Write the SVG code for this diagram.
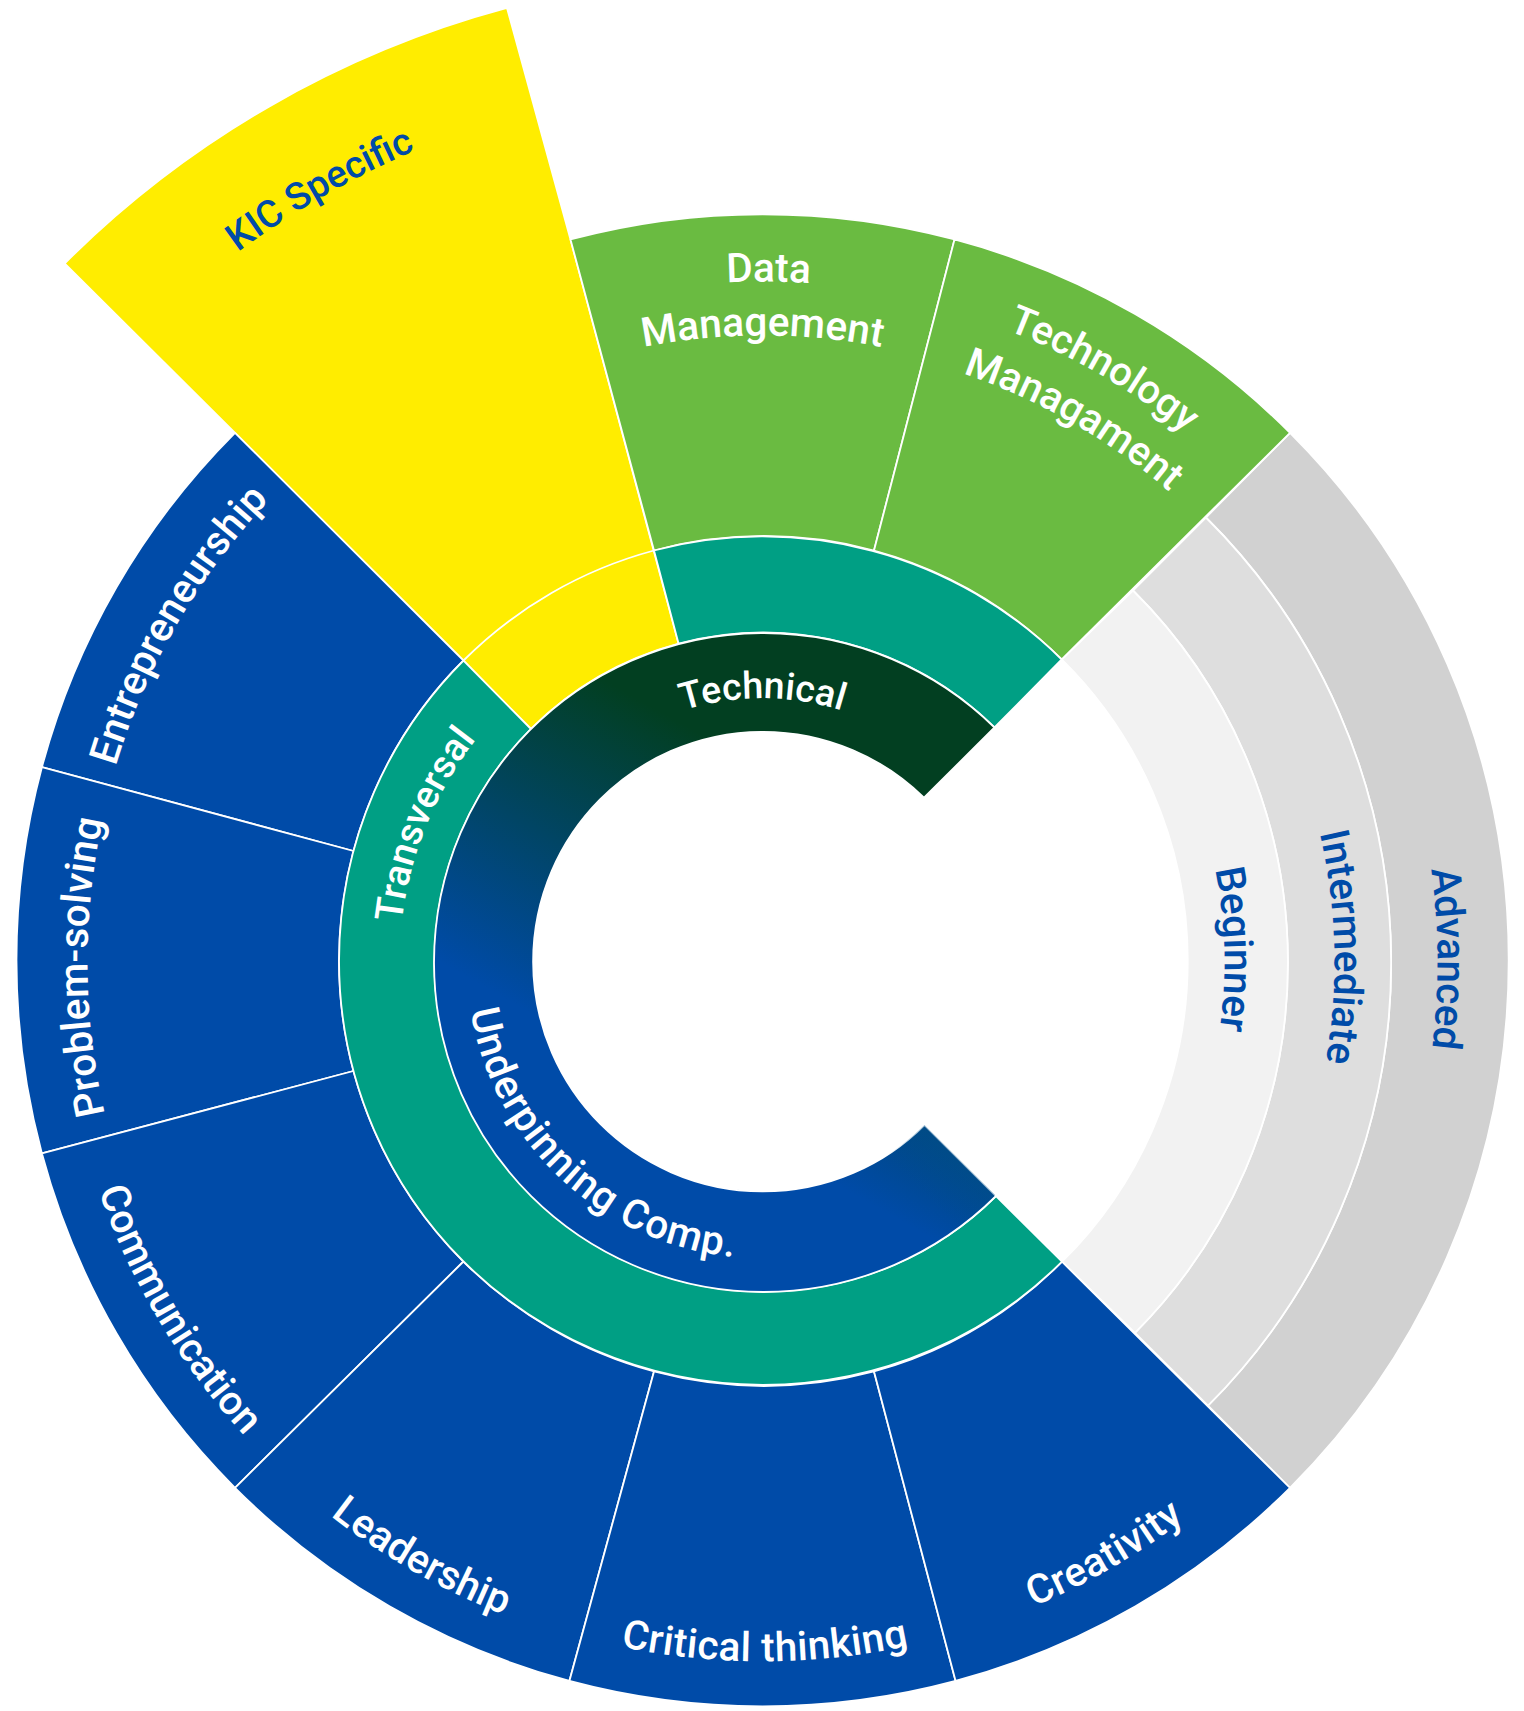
<svg xmlns="http://www.w3.org/2000/svg" width="1524" height="1711" viewBox="0 0 1524 1711">
<style>
.s{stroke:#fff;stroke-width:1.8;stroke-linejoin:round}
.g{fill:#6abb41}.t{fill:#009f84}.b{fill:#004ba8}.y{fill:#ffed00}
text{font-family:Roboto,"Noto Sans",sans-serif;font-size:40.5px;font-weight:500;fill:#fff;text-anchor:middle}
text.d{fill:#004ba8}
</style>
<defs>
<linearGradient id="core" gradientUnits="userSpaceOnUse" x1="640" y1="700" x2="480" y2="985"><stop offset="0" stop-color="#023f21"/><stop offset="1" stop-color="#004ba8"/></linearGradient>
<linearGradient id="coreEnd" gradientUnits="userSpaceOnUse" x1="945" y1="1115" x2="895" y2="1165"><stop offset="0" stop-color="#01508c" stop-opacity=".6"/><stop offset="1" stop-color="#01508c" stop-opacity="0"/></linearGradient>
<path id="c264" d="M498.5 962.3A264 264 0 0 1 1026.5 962.3"/>
<path id="c363" d="M399.5 962.3A363 363 0 0 1 1125.5 962.3"/>
<path id="c681" d="M81.5 962.3A681 681 0 0 1 1443.5 962.3"/>
<path id="c627" d="M135.5 962.3A627 627 0 0 1 1389.5 962.3"/>
<path id="c678" d="M84.5 962.3A678 678 0 0 1 1440.5 962.3"/>
<path id="c622" d="M140.5 962.3A622 622 0 0 1 1384.5 962.3"/>
<path id="c883" d="M-120.5 962.3A883 883 0 0 1 1645.5 962.3"/>
<path id="c676" d="M86.5 962.3A676 676 0 0 1 1438.5 962.3"/>
<path id="c675" d="M87.5 962.3A675 675 0 0 1 1437.5 962.3"/>
<path id="c462" d="M300.5 962.3A462 462 0 0 1 1224.5 962.3"/>
<path id="c572" d="M190.5 962.3A572 572 0 0 1 1334.5 962.3"/>
<path id="u296" d="M466.5 962.3A296 296 0 0 0 1058.5 962.3"/>
<path id="u699" d="M63.5 962.3A699 699 0 0 0 1461.5 962.3"/>
<path id="u702" d="M60.5 962.3A702 702 0 0 0 1464.5 962.3"/>
</defs>
<g id="levels">
<g id="advanced"><path class="s" fill="#d1d1d1" d="M1290 432.8A745.5 745.5 0 0 1 1290 1487.8L1208 1405.7A627.5 627.5 0 0 0 1205.9 517.5Z"/><text class="d" transform="rotate(89.7 762.5 962.3)"><textPath href="#c675" startOffset="50%">Advanced</textPath></text></g>
<g id="intermediate"><path class="s" fill="#dedede" d="M1205.9 517.5A627.5 627.5 0 0 1 1208 1405.7L1135 1332.8A524.5 524.5 0 0 0 1133 590.5Z"/><text class="d" transform="rotate(88.5 762.5 962.3)"><textPath href="#c572" startOffset="50%">Intermediate</textPath></text></g>
<g id="beginner"><path class="s" fill="#f2f2f2" d="M1133 590.5A524.5 524.5 0 0 1 1135 1332.8L1062 1261.7A423 423 0 0 0 1061.7 659.5Z"/><text class="d" transform="rotate(88.4 762.5 962.3)"><textPath href="#c462" startOffset="50%">Beginner</textPath></text></g>
</g>
<g id="kic-specific"><path class="s y" d="M570.5 239.5L507 8A987 987 0 0 0 64.6 263.5L235 432.8L531 729A329.5 329.5 0 0 1 678.6 643.7Z"/><path class="s" fill="none" d="M463.5 660.5A425 425 0 0 1 654 550.5"/><text class="d" style="font-size:38px" transform="rotate(-29.8 762.5 962.3)"><textPath href="#c883" startOffset="50%">KIC Specific</textPath></text></g>
<g id="data-management"><path class="s g" d="M954.5 239.5A746 746 0 0 0 570.5 239.5L654 550.5A425 425 0 0 1 874 550.5Z"/><text transform="rotate(0.5 762.5 962.3)"><textPath href="#c681" startOffset="50%">Data</textPath></text><text transform="rotate(0 762.5 962.3)"><textPath href="#c627" startOffset="50%">Management</textPath></text></g>
<g id="technology-management"><path class="s g" d="M1290 432.8A746 746 0 0 0 954.5 239.5L874 550.5A425 425 0 0 1 1061.7 659.5Z"/><text style="font-size:40px" transform="rotate(29.9 762.5 962.3)"><textPath href="#c678" startOffset="50%">Technology</textPath></text><text transform="rotate(29.8 762.5 962.3)"><textPath href="#c622" startOffset="50%">Managament</textPath></text></g>
<g id="entrepreneurship"><path class="s b" d="M235 432.8A746 746 0 0 0 41.9 767.2L353.5 851A425 425 0 0 1 463.5 660.5Z"/><text transform="rotate(-60 762.5 962.3)"><textPath href="#c676" startOffset="50%">Entrepreneurship</textPath></text></g>
<g id="problem-solving"><path class="s b" d="M41.9 767.2A746 746 0 0 0 41.9 1153.4L353.5 1071A425 425 0 0 1 353.5 851Z"/><text transform="rotate(-90.4 762.5 962.3)"><textPath href="#c675" startOffset="50%">Problem-solving</textPath></text></g>
<g id="communication"><path class="s b" d="M41.9 1153.4A746 746 0 0 0 235 1487.8L463.5 1261.5A425 425 0 0 1 353.5 1071Z"/><text transform="rotate(59.3 762.5 962.3)"><textPath href="#u702" startOffset="50%">Communication</textPath></text></g>
<g id="leadership"><path class="s b" d="M235 1487.8A746 746 0 0 0 569.4 1680.9L654 1371.5A425 425 0 0 1 463.5 1261.5Z"/><text transform="rotate(29.8 762.5 962.3)"><textPath href="#u702" startOffset="50%">Leadership</textPath></text></g>
<g id="critical-thinking"><path class="s b" d="M569.4 1680.9A746 746 0 0 0 955.6 1680.9L874 1371.5A425 425 0 0 1 654 1371.5Z"/><text letter-spacing="0.4" transform="rotate(-0.2 762.5 962.3)"><textPath href="#u699" startOffset="50%">Critical thinking</textPath></text></g>
<g id="creativity"><path class="s b" d="M955.6 1680.9A746 746 0 0 0 1290 1487.8L1062 1261.7A425 425 0 0 1 874 1371.5Z"/><text letter-spacing="0.4" transform="rotate(-30 762.5 962.3)"><textPath href="#u699" startOffset="50%">Creativity</textPath></text></g>
<g id="technical-ring"><path class="s t" d="M1061.7 659.5A425 425 0 0 0 654 550.5L678.6 643.7A329.5 329.5 0 0 1 994.5 727.5Z"/></g>
<g id="transversal"><path class="s t" d="M463.5 660.5A425 425 0 0 0 463.5 1261.5A425 425 0 0 0 1062 1261.7L996 1196A329.5 329.5 0 0 1 531 1195A329.5 329.5 0 0 1 531 729Z"/><text style="font-size:38.5px" transform="rotate(-67.9 762.5 962.3)"><textPath href="#c363" startOffset="50%">Transversal</textPath></text></g>
<g id="core-ring"><path class="s" fill="url(#core)" d="M994.5 727.5A329.5 329.5 0 1 0 996 1196L924.5 1125A229.8 229.8 0 1 1 924 797.7Z"/><path fill="url(#coreEnd)" d="M995.1 1194.9A328.5 328.5 0 0 1 849 1279.6L823 1183.5A229.8 229.8 0 0 0 924.5 1125Z"/><text style="font-size:37.5px"><textPath href="#c264" startOffset="50%">Technical</textPath></text><text transform="rotate(43 762.5 962.3)" letter-spacing="1"><textPath href="#u296" startOffset="50%">Underpinning Comp.</textPath></text></g>
</svg>
